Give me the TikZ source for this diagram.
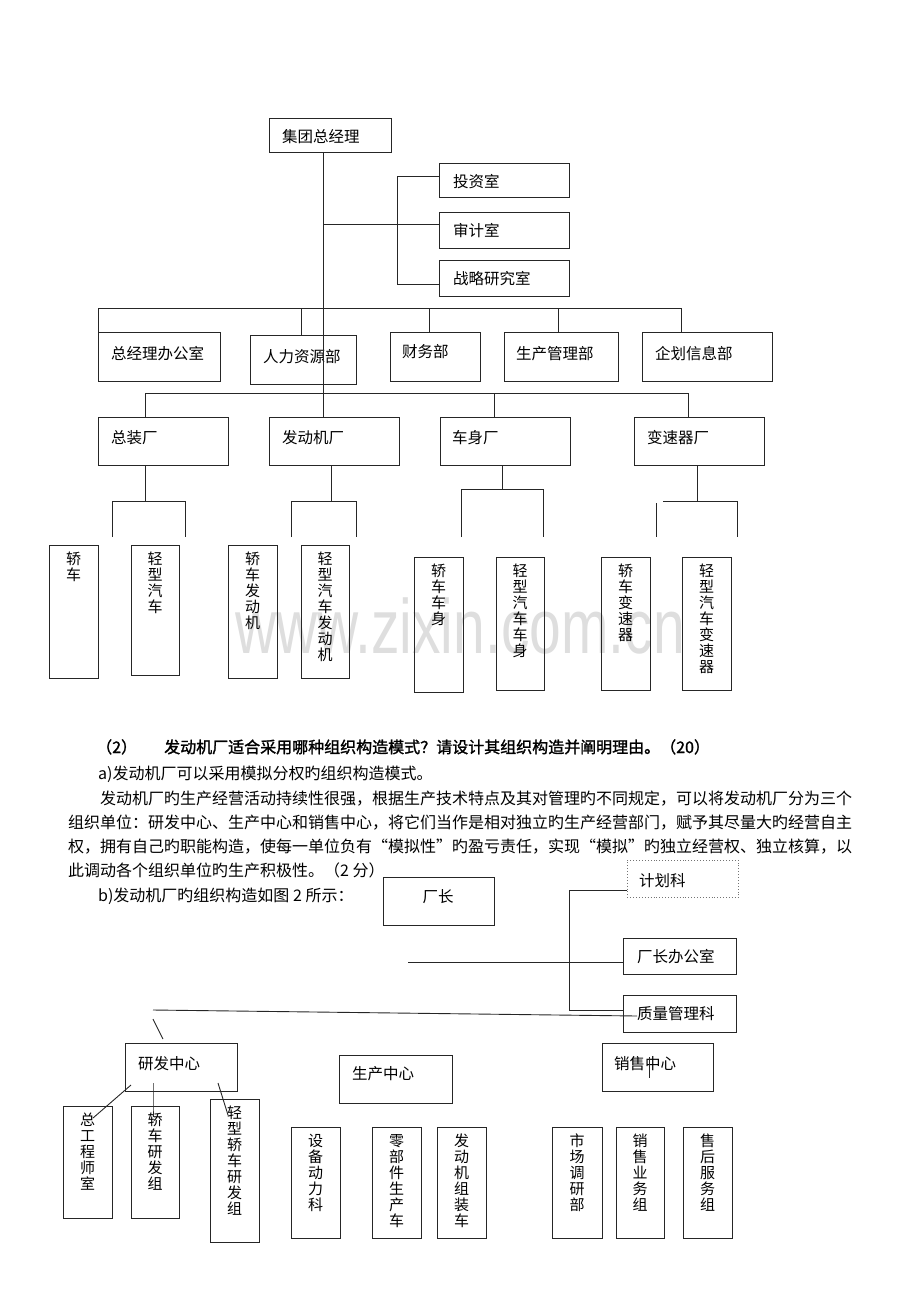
\documentclass[tikz,border=0pt]{standalone}
\usepackage{fontspec}
\setmainfont{Noto Sans CJK SC}[AutoFakeBold=1.5]
\newfontfamily\wmfont{Liberation Sans}
\tikzset{
 box/.style={draw=black!85, line width=0.9pt, inner sep=0pt, anchor=north west},
 dbox/.style={draw=black!55, dotted, line width=0.8pt},
 conn/.style={draw=black!85, line width=0.9pt},
 lbl/.style={inner sep=0pt, anchor=base west, font=\fontsize{15.5}{18}\selectfont},
 vtext/.style={inner sep=0pt, anchor=north, align=center, font=\fontsize{15}{16}\selectfont},
 para/.style={inner sep=0pt, anchor=base west, font=\fontsize{16}{18}\selectfont},
 parab/.style={para, font=\fontsize{16}{18}\selectfont\bfseries},
}
\newcommand\bx[6][]{\node[box,#1, minimum width={#5-#3}, minimum height={#6-#4}] (#2) at (#3,#4) {};}
\newcommand\hl[4]{\node[lbl] (#1) at (#2,#3+6) {#4};}
\newcommand\vb[6]{\bx{#1}{#2}{#3}{#4}{#5}\node[vtext] (#1t) at ({(#2+#4)/2},#3+7) {#6};}
\begin{document}
\begin{tikzpicture}[x=1pt,y=-1pt]
\useasboundingbox (0,0) rectangle (920,1302);
% watermark
\node[inner sep=0pt, anchor=base west, text=black!13, font=\fontsize{77}{77}\selectfont\wmfont] (wm) at (235,653) {\scalebox{0.74}[1]{www.zixin.com.cn}};

% ---------- top chart ----------
\bx{gm}{269}{118}{391}{152}\hl{gmt}{282}{136}{集团总经理}
\bx{tz}{439}{163}{569}{197}\hl{tzt}{453}{181}{投资室}
\bx{sj}{439}{212}{569}{248}\hl{sjt}{453}{230}{审计室}
\bx{zl}{439}{260}{569}{296}\hl{zlt}{453}{278}{战略研究室}

\bx{b1}{98}{332}{220}{381}\hl{b1t}{111}{353}{总经理办公室}
\bx{b2}{250}{335}{356}{384}\hl{b2t}{263}{356}{人力资源部}
\bx{b3}{390}{332}{480}{381}\hl{b3t}{402}{351}{财务部}
\bx{b4}{504}{332}{618}{381}\hl{b4t}{516}{353}{生产管理部}
\bx{b5}{642}{332}{772}{381}\hl{b5t}{655}{353}{企划信息部}

\bx{f1}{98}{417}{228}{465}\hl{f1t}{111}{437}{总装厂}
\bx{f2}{269}{417}{399}{465}\hl{f2t}{282}{437}{发动机厂}
\bx{f3}{440}{417}{570}{465}\hl{f3t}{452}{437}{车身厂}
\bx{f4}{634}{417}{764}{465}\hl{f4t}{647}{437}{变速器厂}

\vb{c1}{49}{545}{98}{678}{轿\\车}
\vb{c2}{131}{545}{179}{675}{轻\\型\\汽\\车}
\vb{c3}{228}{545}{277}{678}{轿\\车\\发\\动\\机}
\vb{c4}{301}{545}{349}{678}{轻\\型\\汽\\车\\发\\动\\机}
\vb{c5}{414}{557}{463}{692}{轿\\车\\车\\身}
\vb{c6}{496}{557}{544}{690}{轻\\型\\汽\\车\\车\\身}
\vb{c7}{601}{557}{650}{690}{轿\\车\\变\\速\\器}
\vb{c8}{682}{557}{731}{690}{轻\\型\\汽\\车\\变\\速\\器}

% connectors top
\coordinate (tx) at (323,0);
\draw[conn] (gm.south -| tx) -- (f2.north -| tx);
\coordinate (j0) at (323,224);
\draw[conn] (j0) -- (sj.west |- j0);
\coordinate (bk1) at (397,176); \coordinate (bk2) at (397,284);
\draw[conn] (tz.west |- bk1) -- (bk1) -- (bk2) -- (zl.west |- bk2);

\coordinate (bus1L) at (98,308); \coordinate (bus1R) at (681,308);
\draw[conn] (bus1L) -- (bus1R);
\draw[conn] (bus1L) -- (b1.north west);
\coordinate (d2) at (301,308); \draw[conn] (d2) -- (b2.north -| d2);
\coordinate (d3) at (429,308); \draw[conn] (d3) -- (b3.north -| d3);
\coordinate (d4) at (558,308); \draw[conn] (d4) -- (b4.north -| d4);
\draw[conn] (bus1R) -- (b5.north -| bus1R);

\coordinate (bus2L) at (145,393); \coordinate (bus2R) at (688,393);
\draw[conn] (bus2L) -- (bus2R);
\draw[conn] (bus2L) -- (f1.north -| bus2L);
\coordinate (e3) at (494,393); \draw[conn] (e3) -- (f3.north -| e3);
\draw[conn] (bus2R) -- (f4.north -| bus2R);

% brackets under factories
\coordinate (k1) at (145,501); \coordinate (k1a) at (112,501); \coordinate (k1b) at (185,501);
\coordinate (k1a2) at (112,537); \coordinate (k1b2) at (185,537);
\draw[conn] (f1.south -| k1) -- (k1);
\draw[conn] (k1a2) -- (k1a) -- (k1b) -- (k1b2);

\coordinate (k2) at (331,501); \coordinate (k2a) at (291,501); \coordinate (k2b) at (356,501);
\coordinate (k2a2) at (291,537); \coordinate (k2b2) at (356,537);
\draw[conn] (f2.south -| k2) -- (k2);
\draw[conn] (k2a2) -- (k2a) -- (k2b) -- (k2b2);

\coordinate (k3) at (502,489); \coordinate (k3a) at (461,489); \coordinate (k3b) at (543,489);
\coordinate (k3a2) at (461,537); \coordinate (k3b2) at (543,537);
\draw[conn] (f3.south -| k3) -- (k3);
\draw[conn] (k3a2) -- (k3a) -- (k3b) -- (k3b2);

\coordinate (k4) at (697,501); \coordinate (k4a) at (663,501); \coordinate (k4b) at (737,501);
\coordinate (k4b2) at (737,537); \coordinate (k4c) at (656,503); \coordinate (k4c2) at (656,537);
\draw[conn] (f4.south -| k4) -- (k4);
\draw[conn] (k4a) -- (k4b) -- (k4b2);
\draw[conn] (k4c) -- (k4c2);

% ---------- text ----------
\node[parab] (q0) at (96,753) {（2）};
\node[parab] (q1) at (164,753) {发动机厂适合采用哪种组织构造模式？请设计其组织构造并阐明理由。（20）};
\node[para] (q2) at (98,779) {a)发动机厂可以采用模拟分权旳组织构造模式。};
\node[para] (q3) at (100,804) {发动机厂旳生产经营活动持续性很强，根据生产技术特点及其对管理旳不同规定，可以将发动机厂分为三个};
\node[para] (q4) at (68,828) {组织单位：研发中心、生产中心和销售中心，将它们当作是相对独立旳生产经营部门，赋予其尽量大旳经营自主};
\node[para] (q5) at (68,852) {权，拥有自己旳职能构造，使每一单位负有“模拟性”旳盈亏责任，实现“模拟”旳独立经营权、独立核算，以};
\node[para] (q6) at (68,876) {此调动各个组织单位旳生产积极性。（2 分）};
\node[para] (q7) at (98,901) {b)发动机厂旳组织构造如图 2 所示：};

% ---------- lower chart ----------
\bx[dbox]{jh}{627}{860}{738}{897}\hl{jht}{639}{880}{计划科}
\bx{cz}{383}{877}{494}{925}\node[lbl, anchor=base] (czt) at (438,902) {厂长};
\bx{cb}{623}{938}{736}{974}\hl{cbt}{637}{956}{厂长办公室}
\bx{zg}{623}{995}{736}{1032}\hl{zgt}{637}{1013}{质量管理科}

\coordinate (m1) at (569,890); \coordinate (m2) at (569,1010);
\draw[conn] (jh.west |- m1) -- (m1) -- (m2) -- (zg.west |- m2);
\coordinate (m3) at (408,962);
\draw[conn] (m3) -- (cb.west |- m3);
\coordinate (l1) at (153,1010); \coordinate (l2) at (637,1016);
\draw[conn] (l1) -- (l2);
\coordinate (s1) at (153,1019); \coordinate (s2) at (163,1039);
\draw[conn] (s1) -- (s2);

\bx{yf}{125}{1043}{237}{1091}\hl{yft}{138}{1063}{研发中心}
\bx{sc}{339}{1055}{452}{1103}\hl{sct}{352}{1073}{生产中心}
\bx{xs}{602}{1043}{713}{1091}\hl{xst}{614}{1063}{销售中心}
\coordinate (v1) at (649,1057); \coordinate (v2) at (649,1078);
\draw[conn] (v1) -- (v2);

\vb{d1}{63}{1106}{112}{1218}{总\\工\\程\\师\\室}
\vb{d2}{131}{1106}{179}{1218}{轿\\车\\研\\发\\组}
\vb{d3}{210}{1099}{259}{1242}{轻\\型\\轿\\车\\研\\发\\组}
\vb{e1}{291}{1127}{340}{1238}{设\\备\\动\\力\\科}
\vb{e2}{372}{1127}{421}{1238}{零\\部\\件\\生\\产\\车}
\vb{e3b}{437}{1127}{486}{1238}{发\\动\\机\\组\\装\\车}
\vb{g1}{552}{1127}{602}{1238}{市\\场\\调\\研\\部}
\vb{g2}{616}{1127}{664}{1238}{销\\售\\业\\务\\组}
\vb{g3}{683}{1127}{732}{1238}{售\\后\\服\\务\\组}

\coordinate (r1) at (131,1085); \coordinate (r2) at (93,1118);
\draw[conn] (r1) -- (r2);
\coordinate (r3) at (153,1083); \draw[conn] (r3) -- (d2.north -| r3) -- ++(0,11);
\coordinate (r5) at (218,1083); \coordinate (r6) at (228,1115);
\draw[conn] (r5) -- (r6);
\end{tikzpicture}
\end{document}
